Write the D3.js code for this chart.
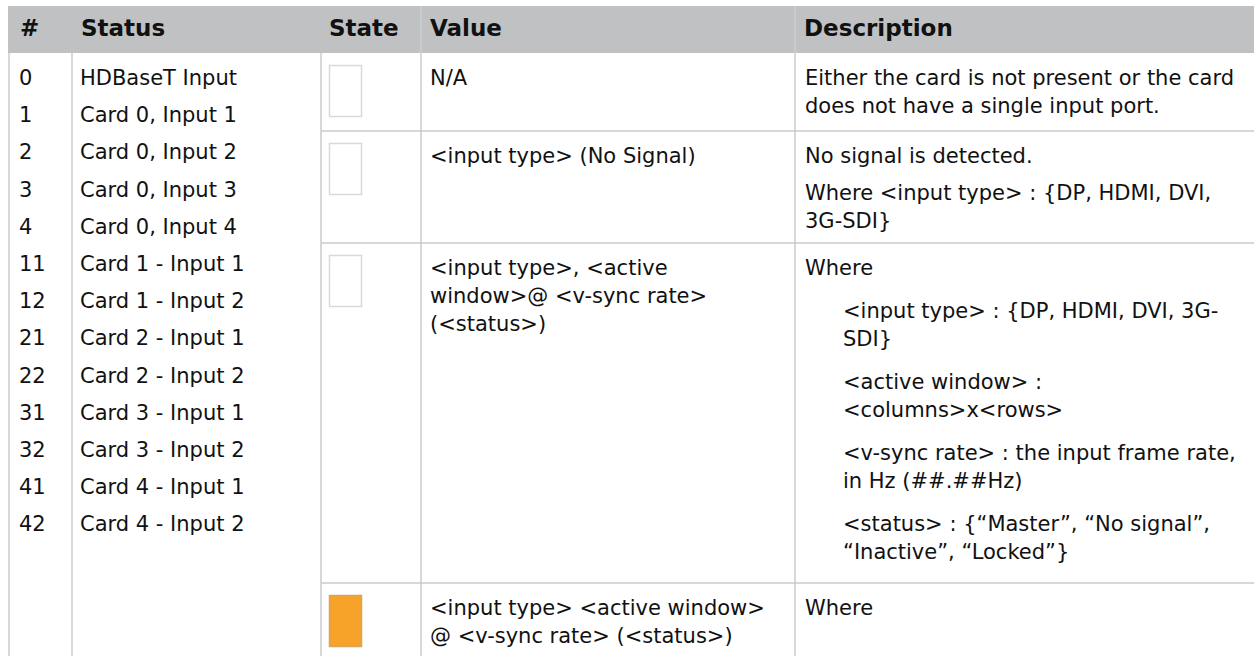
<!DOCTYPE html>
<html><head><meta charset="utf-8">
<script src="https://cdn.jsdelivr.net/npm/d3@7/dist/d3.min.js"></script>
<style>
body{margin:0;background:#fff}
svg{display:block}
text{font-family:"DejaVu Sans",Verdana,sans-serif;fill:#111}
</style>
</head><body>
<svg id="c" width="1254" height="656"></svg>
<script>
// ---- data ----
const headers = ["#", "Status", "State", "Value", "Description"];
const ids = ["0","1","2","3","4","11","12","21","22","31","32","41","42"];
const statuses = ["HDBaseT Input","Card 0, Input 1","Card 0, Input 2","Card 0, Input 3","Card 0, Input 4",
  "Card 1 - Input 1","Card 1 - Input 2","Card 2 - Input 1","Card 2 - Input 2",
  "Card 3 - Input 1","Card 3 - Input 2","Card 4 - Input 1","Card 4 - Input 2"];
const stateColors = ["#ffffff","#ffffff","#ffffff","#f7a229"];
const valueLines = [
  ["N/A"],
  ["<input type> (No Signal)"],
  ["<input type>, <active","window>@ <v-sync rate>","(<status>)"],
  ["<input type> <active window>","@ <v-sync rate> (<status>)"]
];
const descriptions = [
  [{indent:0, lines:["Either the card is not present or the card","does not have a single input port."]}],
  [{indent:0, lines:["No signal is detected."]},
   {indent:0, lines:["Where <input type> : {DP, HDMI, DVI,","3G-SDI}"]}],
  [{indent:0, lines:["Where"]},
   {indent:1, lines:["<input type> : {DP, HDMI, DVI, 3G-","SDI}"]},
   {indent:1, lines:["<active window> :","<columns>x<rows>"]},
   {indent:1, lines:["<v-sync rate> : the input frame rate,","in Hz (##.##Hz)"]},
   {indent:1, lines:["<status> : {\u201CMaster\u201D, \u201CNo signal\u201D,","\u201CInactive\u201D, \u201CLocked\u201D}"]}],
  [{indent:0, lines:["Where"]}]
];

// ---- layout ----
const W = 1254, H = 656;
const colX = [9, 72, 321, 421, 795, W];
const headTop = 6, headBot = 53;
const rowEdges = [53, 131, 243, 583, H];
const lineH = 28, paraGap = 37, itemGap = 43, indentW = 38;
const lineColor = "#cbcbcb";
const fs = 21;

const svg = d3.select("#c");

// header
svg.append("rect").attr("x", 8).attr("y", headTop).attr("width", W - 8).attr("height", headBot - headTop)
  .attr("fill", "#bfc1c3");
[colX[3], colX[4]].forEach(x => svg.append("line").attr("x1", x).attr("x2", x)
  .attr("y1", headTop).attr("y2", headBot).attr("stroke", "#cdcfd1").attr("stroke-width", 1.5));
svg.selectAll("text.h").data(headers).join("text").attr("class", "h")
  .attr("x", (d, i) => colX[i] + (i === 0 ? 11 : i === 2 ? 8 : 9))
  .attr("y", 36).attr("font-size", 23).attr("font-weight", "bold").text(d => d);

// grid lines
const g = svg.append("g").attr("stroke", lineColor).attr("stroke-width", 1.5);
colX.slice(0, 5).forEach(x => g.append("line").attr("x1", x).attr("x2", x).attr("y1", headBot).attr("y2", H));
rowEdges.slice(1, 4).forEach(y => g.append("line").attr("x1", colX[2]).attr("x2", W).attr("y1", y).attr("y2", y));

// first two columns (rowspan)
const yId = d3.scaleLinear().domain([0, ids.length - 1]).range([85, 85 + 37.2 * (ids.length - 1)]);
svg.selectAll("text.id").data(ids).join("text").attr("class", "id")
  .attr("x", 19).attr("y", (d, i) => yId(i)).attr("font-size", fs).text(d => d);
svg.selectAll("text.st").data(statuses).join("text").attr("class", "st")
  .attr("x", 80).attr("y", (d, i) => yId(i)).attr("font-size", fs).text(d => d);

// state swatches
svg.selectAll("rect.sw").data(stateColors).join("rect").attr("class", "sw")
  .attr("x", 329.5).attr("y", (d, i) => rowEdges[i] + 12.5).attr("width", 32).attr("height", 51)
  .attr("fill", d => d).attr("stroke", d => d === "#ffffff" ? "#d9d9d9" : "#d8a45e").attr("stroke-width", 1.5);

// values
valueLines.forEach((lines, r) => {
  svg.selectAll(null).data(lines).join("text")
    .attr("x", 430).attr("y", (d, i) => rowEdges[r] + 32 + i * lineH)
    .attr("font-size", fs).text(d => d);
});

// descriptions
descriptions.forEach((paras, r) => {
  let y = rowEdges[r] + 32;
  paras.forEach((p, pi) => {
    if (pi > 0) y += p.indent ? itemGap : paraGap;
    p.lines.forEach((ln, li) => {
      if (li > 0) y += lineH;
      svg.append("text").attr("x", 805 + p.indent * indentW).attr("y", y)
        .attr("font-size", fs).text(ln);
    });
  });
});
</script>
</body></html>
